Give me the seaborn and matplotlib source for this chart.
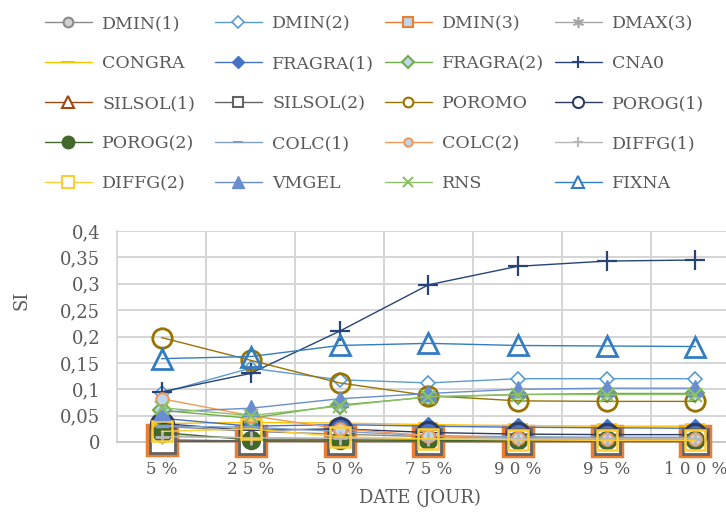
import matplotlib
matplotlib.use("Agg")
import matplotlib.pyplot as plt
from matplotlib.lines import Line2D
from matplotlib.ticker import MultipleLocator, FuncFormatter
import seaborn as sns

categories = ["5 %", "2 5 %", "5 0 %", "7 5 %", "9 0 %", "9 5 %", "1 0 0 %"]

series_names = ["DMIN(1)", "DMIN(2)", "DMIN(3)", "DMAX(3)", "CONGRA", "FRAGRA(1)",
                "FRAGRA(2)", "CNA0", "SILSOL(1)", "SILSOL(2)", "POROMO", "POROG(1)",
                "POROG(2)", "COLC(1)", "COLC(2)", "DIFFG(1)", "DIFFG(2)", "VMGEL",
                "RNS", "FIXNA"]

dmin1 = [0.030, 0.020, 0.015, 0.010, 0.008, 0.007, 0.007]
dmin2 = [0.093, 0.140, 0.118, 0.112, 0.120, 0.120, 0.120]
dmin3 = [0.003, 0.002, 0.002, 0.001, 0.001, 0.001, 0.001]
dmax3 = [0.012, 0.008, 0.006, 0.005, 0.004, 0.004, 0.004]
congra = [0.035, 0.037, 0.036, 0.033, 0.031, 0.030, 0.030]
fragra1 = [0.045, 0.030, 0.033, 0.030, 0.028, 0.027, 0.026]
fragra2 = [0.060, 0.045, 0.070, 0.085, 0.090, 0.092, 0.092]
cna0 = [0.095, 0.130, 0.210, 0.298, 0.333, 0.343, 0.345]
silsol1 = [0.001, 0.001, 0.001, 0.001, 0.001, 0.001, 0.001]
silsol2 = [0.004, 0.002, 0.001, 0.001, 0.001, 0.001, 0.001]
poromo = [0.198, 0.155, 0.112, 0.088, 0.078, 0.077, 0.077]
porog1 = [0.035, 0.022, 0.025, 0.018, 0.015, 0.014, 0.014]
porog2 = [0.018, 0.004, 0.004, 0.003, 0.003, 0.003, 0.003]
colc1 = [0.030, 0.028, 0.020, 0.012, 0.010, 0.009, 0.009]
colc2 = [0.082, 0.050, 0.025, 0.012, 0.007, 0.006, 0.006]
diffg1 = [0.010, 0.008, 0.007, 0.006, 0.006, 0.006, 0.006]
diffg2 = [0.020, 0.025, 0.010, 0.006, 0.004, 0.003, 0.003]
vmgel = [0.057, 0.064, 0.082, 0.092, 0.100, 0.102, 0.102]
rns = [0.065, 0.050, 0.068, 0.086, 0.090, 0.090, 0.090]
fixna = [0.158, 0.162, 0.183, 0.187, 0.183, 0.182, 0.181]

values = [dmin1, dmin2, dmin3, dmax3, congra, fragra1, fragra2, cna0, silsol1,
          silsol2, poromo, porog1, porog2, colc1, colc2, diffg1, diffg2, vmgel,
          rns, fixna]

# style: color, marker, facecolor, plot markersize, legend markersize, edge width
styles = {
    "DMIN(1)":   ("#8a8a8a", "o", "#d0d0d0", 8, 7, 1.5),
    "DMIN(2)":   ("#5b9bd5", "D", "#ffffff", 7, 6, 1.2),
    "DMIN(3)":   ("#ed7d31", "s", "#bdd7ee", 21, 7, 2.5),
    "DMAX(3)":   ("#a5a5a5", (6, 2, 0), "#a5a5a5", 8, 8, 1.2),
    "CONGRA":    ("#ffc000", "_", "#ffc000", 14, 10, 4.0),
    "FRAGRA(1)": ("#4472c4", "D", "#4472c4", 9, 6, 1.0),
    "FRAGRA(2)": ("#70ad47", "D", "#bdd7ee", 9, 6, 1.5),
    "CNA0":      ("#264478", "+", "#264478", 14, 8, 1.6),
    "SILSOL(1)": ("#9e480e", "^", "#ffffff", 8, 8, 1.6),
    "SILSOL(2)": ("#636363", "s", "#ffffff", 18, 7, 2.0),
    "POROMO":    ("#997300", "o", "none", 14, 7, 2.0),
    "POROG(1)":  ("#2f3b63", "o", "none", 16, 8, 2.2),
    "POROG(2)":  ("#43682b", "o", "#43682b", 13, 9, 1.0),
    "COLC(1)":   ("#7ca0c8", "_", "#7ca0c8", 10, 7, 2.5),
    "COLC(2)":   ("#f1975a", "o", "#bdd7ee", 9, 6, 1.5),
    "DIFFG(1)":  ("#b7b7b7", "+", "#b7b7b7", 10, 7, 2.0),
    "DIFFG(2)":  ("#ffcd33", "s", "none", 14, 8, 1.8),
    "VMGEL":     ("#698ed0", "^", "#698ed0", 12, 8, 1.0),
    "RNS":       ("#8cc168", "x", "#8cc168", 10, 7, 1.5),
    "FIXNA":     ("#327dc2", "^", "none", 15, 8, 2.0),
}

sns.set_theme(style="white")
plt.rcParams["font.family"] = ["DejaVu Serif", "DejaVu Sans"]
text_col = "#595959"

fig = plt.figure(figsize=(7.26, 5.16), dpi=100)
ax = fig.add_axes([117 / 726, 1 - 442 / 516, (740 - 117) / 726, (442 - 231) / 516])

for name, vals in zip(series_names, values):
    col, mk, fc, ms, lms, mew = styles[name]
    sns.lineplot(x=categories, y=vals, ax=ax, color=col, linewidth=1.0,
                 marker=mk, markersize=ms, markerfacecolor=fc,
                 markeredgecolor=col, markeredgewidth=mew, sort=False,
                 clip_on=False, zorder=3)

ax.set_ylim(0, 0.4)
ax.set_xlim(-0.5, 6.5)
ax.yaxis.set_major_locator(MultipleLocator(0.05))
ax.yaxis.set_minor_locator(MultipleLocator(0.01))


def fmt(v, pos):
    s = f"{v:.2f}".rstrip("0").rstrip(".")
    return s.replace(".", ",")


ax.yaxis.set_major_formatter(FuncFormatter(fmt))
ax.set_xticks(range(len(categories)))
ax.set_xticklabels(categories)
ax.set_xticks([i + 0.5 for i in range(-1, len(categories))], minor=True)
ax.grid(True, which="major", axis="y", color="#d5d5d5", linewidth=1.4, zorder=0)
ax.grid(True, which="minor", axis="x", color="#d5d5d5", linewidth=1.4, zorder=0)
ax.set_axisbelow(True)
for s in ["top", "right"]:
    ax.spines[s].set_visible(False)
ax.spines["left"].set_color("#d5d5d5")
ax.spines["left"].set_linewidth(1.2)
ax.spines["bottom"].set_color("#c8c8c8")
ax.spines["bottom"].set_linewidth(1.4)
ax.tick_params(axis="y", which="major", labelsize=13, labelcolor=text_col,
               length=0, pad=12)
ax.tick_params(axis="y", which="minor", length=3, color="#cfcfcf", direction="in",
               width=1)
ax.tick_params(axis="x", which="major", labelsize=12, labelcolor=text_col,
               length=0, pad=14)
ax.tick_params(axis="x", which="minor", length=0)

ax.set_xlabel("DATE (JOUR)", fontsize=13, color=text_col)
ax.set_ylabel("SI", fontsize=13, color=text_col)
ax.xaxis.set_label_coords((420 - 117) / (740 - 117), -(489 - 442) / (442 - 231))
ax.yaxis.set_label_coords(-(117 - 30) / (740 - 117), (442 - 300) / (442 - 231))

# legend: 4 evenly spaced columns
cols_idx = [[0, 4, 8, 12, 16], [1, 5, 9, 13, 17], [2, 6, 10, 14, 18], [3, 7, 11, 15, 19]]
col_x = [45, 215, 385, 555]
for cx, idxs in zip(col_x, cols_idx):
    handles = []
    labels = []
    for i in idxs:
        name = series_names[i]
        col, mk, fc, ms, lms, mew = styles[name]
        lmew = min(mew, 1.5)
        handles.append(Line2D([], [], color=col, linewidth=1.0, marker=mk,
                              markersize=lms, markerfacecolor=fc if fc != "none" else "white",
                              markeredgecolor=col, markeredgewidth=lmew))
        labels.append(name)
    leg = fig.legend(handles, labels, loc="upper left",
                     bbox_to_anchor=(cx / 726, 1 - 15 / 516),
                     frameon=False, fontsize=12.5, handlelength=2.7,
                     handletextpad=0.6, labelspacing=1.33, borderpad=0,
                     borderaxespad=0)
    for t in leg.get_texts():
        t.set_color(text_col)

fig.savefig("out.png", dpi=100)
